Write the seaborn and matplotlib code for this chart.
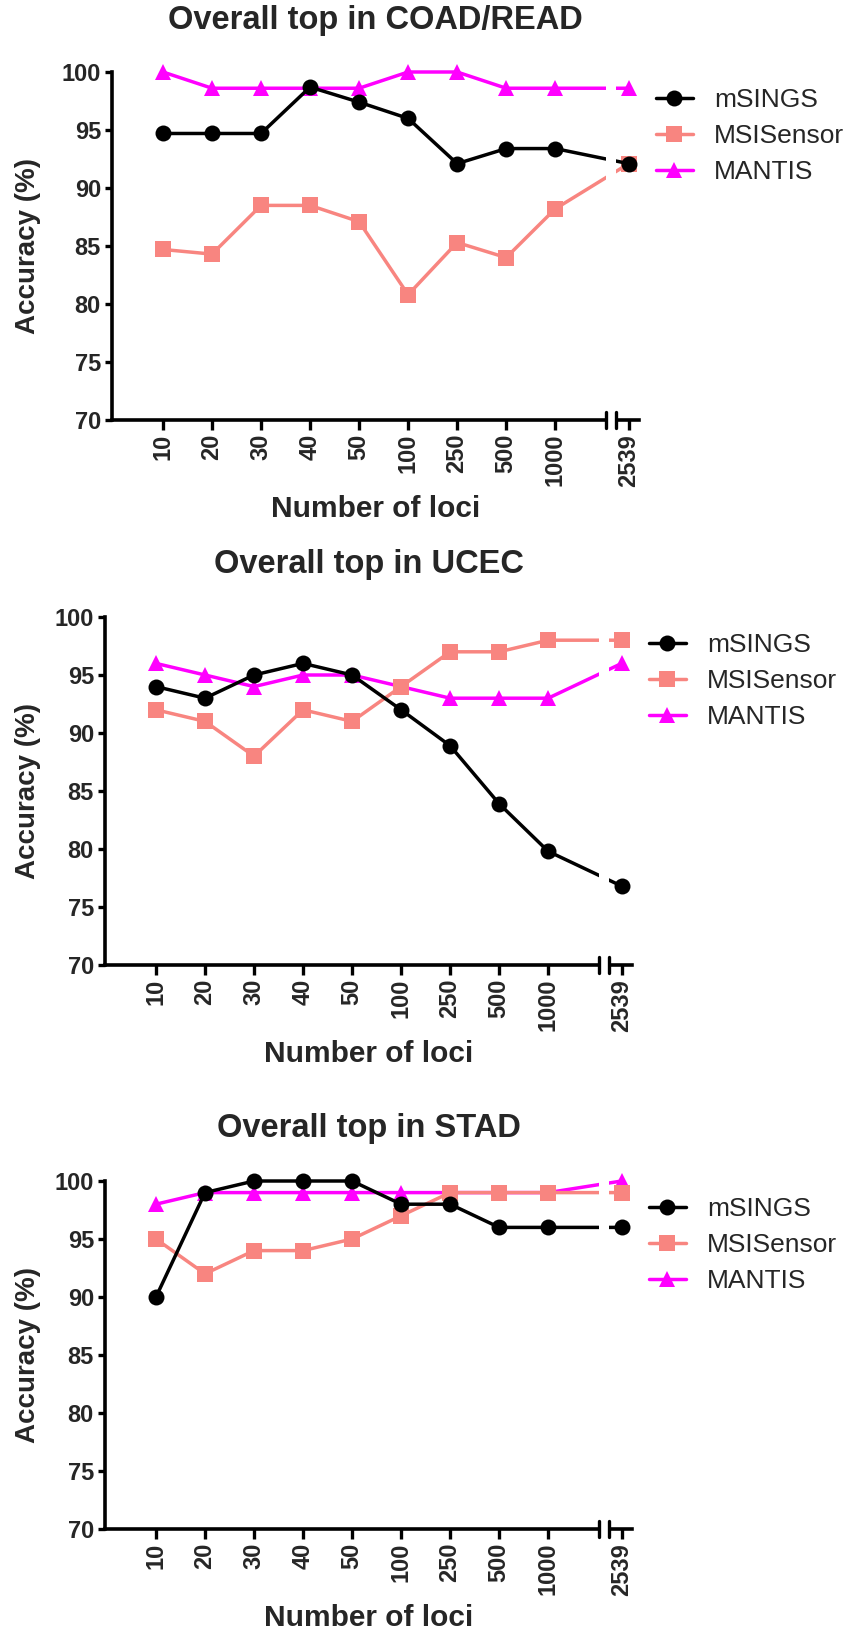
import pandas as pd
import matplotlib
matplotlib.use("Agg")
import matplotlib.pyplot as plt
import seaborn as sns

# x categories (number of loci) and the three panels
LOCI = ['10', '20', '30', '40', '50', '100', '250', '500', '1000', '2539']
METHODS = ['mSINGS', 'MSISensor', 'MANTIS']
TITLES = ['Overall top in COAD/READ', 'Overall top in UCEC', 'Overall top in STAD']

# accuracy (%)
COAD_MSINGS = [94.7, 94.7, 94.7, 98.7, 97.4, 96.0, 92.1, 93.4, 93.4, 92.1]
COAD_MSISENSOR = [84.7, 84.3, 88.5, 88.5, 87.1, 80.8, 85.3, 84.0, 88.2, 92.1]
COAD_MANTIS = [100.0, 98.6, 98.6, 98.6, 98.6, 100.0, 100.0, 98.6, 98.6, 98.6]

UCEC_MSINGS = [94.0, 93.0, 95.0, 96.0, 95.0, 92.0, 88.9, 83.9, 79.8, 76.8]
UCEC_MSISENSOR = [92.0, 91.0, 88.0, 92.0, 91.0, 94.0, 97.0, 97.0, 98.0, 98.0]
UCEC_MANTIS = [96.0, 95.0, 94.0, 95.0, 95.0, 94.0, 93.0, 93.0, 93.0, 96.0]

STAD_MSINGS = [90.0, 99.0, 100.0, 100.0, 100.0, 98.0, 98.0, 96.0, 96.0, 96.0]
STAD_MSISENSOR = [95.0, 92.0, 94.0, 94.0, 95.0, 97.0, 99.0, 99.0, 99.0, 99.0]
STAD_MANTIS = [98.0, 99.0, 99.0, 99.0, 99.0, 99.0, 99.0, 99.0, 99.0, 100.0]

PANELS = [
    (COAD_MSINGS, COAD_MSISENSOR, COAD_MANTIS),
    (UCEC_MSINGS, UCEC_MSISENSOR, UCEC_MANTIS),
    (STAD_MSINGS, STAD_MSISENSOR, STAD_MANTIS),
]

PALETTE = {'mSINGS': '#000000', 'MSISensor': '#F88580', 'MANTIS': '#FF00FF'}
MARKERS = {'mSINGS': 'o', 'MSISensor': 's', 'MANTIS': '^'}

# broken axis: last category sits 1.5 steps after the previous one
positions = list(range(len(LOCI) - 1)) + [len(LOCI) - 0.5]
BREAK = (9.04, 9.25)

sns.set_theme(style="ticks")
plt.rcParams['font.family'] = ['Liberation Sans', 'DejaVu Sans']

fig = plt.figure(figsize=(8.65, 16.29), dpi=100)
W, H = 865, 1629
axes_boxes = [(112, 420), (105, 965), (105, 1529)]  # left spine px, x-axis px
ax_w, ax_h = 527, 348

for (left, base), title, series in zip(axes_boxes, TITLES, PANELS):
    ax = fig.add_axes([left / W, (H - base) / H, ax_w / W, ax_h / H])

    rows = []
    for method, vals in zip(METHODS, series):
        for p, v in zip(positions, vals):
            rows.append({'pos': p, 'acc': v, 'method': method})
    df = pd.DataFrame(rows)

    sns.lineplot(data=df, x='pos', y='acc', hue='method', style='method',
                 hue_order=['MANTIS', 'MSISensor', 'mSINGS'],
                 style_order=['MANTIS', 'MSISensor', 'mSINGS'],
                 palette=PALETTE, markers=MARKERS, dashes=False,
                 linewidth=2.5, markersize=11.5, markeredgewidth=0,
                 clip_on=False, legend=False, ax=ax)

    ax.set_xlim(-1.04, 9.71)
    ax.set_ylim(70, 100)
    ax.set_yticks(range(70, 101, 5))
    ax.set_yticklabels([str(t) for t in range(70, 101, 5)], fontweight='bold', fontsize=17)
    ax.set_xticks(positions)
    ax.set_xticklabels(LOCI, rotation=90, fontweight='bold', fontsize=17)
    ax.tick_params(axis='y', length=5, width=2.4, color='black', pad=3)
    ax.tick_params(axis='x', length=7, width=2.4, color='black', pad=3)

    sns.despine(ax=ax)
    for side in ['left', 'bottom']:
        ax.spines[side].set_linewidth(2.6)
        ax.spines[side].set_color('black')

    # axis break: white gap over lines and spine, plus two short bars
    ax.axvspan(BREAK[0], BREAK[1], ymin=-0.03, ymax=1.03, color='white',
               lw=0, zorder=5, clip_on=False)
    for bx in BREAK:
        ax.axvline(bx, ymin=-0.022, ymax=0.022, color='black', lw=2.4,
                   zorder=6, clip_on=False)

    ax.set_xlabel('Number of loci', fontsize=21.5, fontweight='bold', va='center')
    ax.xaxis.set_label_coords(0.5, -89 / ax_h)
    ax.set_ylabel('Accuracy (%)', fontsize=20, fontweight='bold', va='center')
    ax.yaxis.set_label_coords(-(left - 28) / ax_w, 0.5)

    ax.text(0.5, 1 + 52 / ax_h, title, transform=ax.transAxes, ha='center',
            va='center', fontsize=23.5, fontweight='bold')

    lines = ax.lines[:3]
    ax.legend(handles=lines[::-1], labels=METHODS, loc='center left',
              bbox_to_anchor=(1 + 17 / ax_w, 1 - 64 / ax_h), frameon=False,
              fontsize=19, handlelength=1.4, handletextpad=0.8,
              labelspacing=0.45, borderpad=0, borderaxespad=0)

fig.savefig('out.png', dpi=100)
